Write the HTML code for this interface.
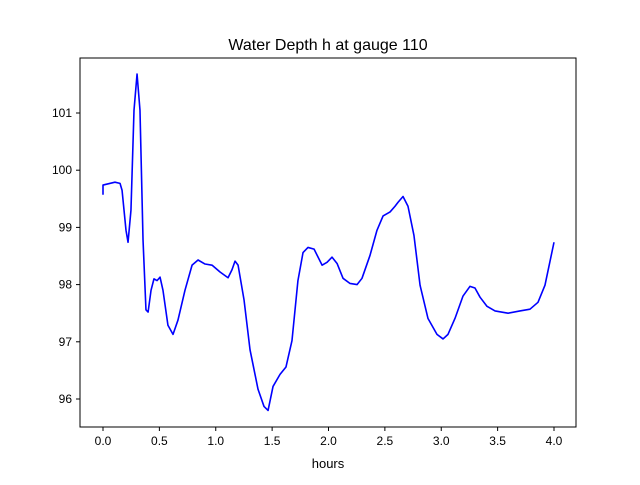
<!DOCTYPE html>
<html><head><meta charset="utf-8"><style>
body{margin:0;background:#fff;}
svg text{font-family:"Liberation Sans","DejaVu Sans",sans-serif;}
</style></head><body>
<svg id="chart" width="640" height="480" viewBox="0 0 640 480" xmlns="http://www.w3.org/2000/svg">
<rect width="640" height="480" fill="#fff"/>
<text x="328" y="50" font-size="16" text-anchor="middle">Water Depth h at gauge 110</text>
<g id="plot"></g>
<rect x="80" y="58" width="496" height="369" fill="none" stroke="#000" stroke-width="1"/>
<text x="328" y="468" font-size="13" text-anchor="middle">hours</text>
</svg>
<script>
const hours=[0,0,0.106,0.151,0.169,0.204,0.222,0.248,0.275,0.302,0.328,0.355,0.381,0.400,0.426,0.452,0.479,0.506,0.532,0.576,0.621,0.665,0.727,0.790,0.843,0.905,0.967,1.038,1.109,1.144,1.171,1.198,1.251,1.304,1.375,1.428,1.464,1.508,1.570,1.623,1.676,1.729,1.774,1.818,1.872,1.943,1.987,2.031,2.076,2.129,2.191,2.253,2.297,2.368,2.430,2.484,2.546,2.590,2.617,2.661,2.705,2.758,2.812,2.882,2.962,3.016,3.060,3.122,3.193,3.255,3.299,3.344,3.406,3.477,3.592,3.698,3.787,3.858,3.920,4.0];
const depth=[99.57,99.74,99.79,99.77,99.65,98.95,98.74,99.3,101.05,101.68,101.05,98.78,97.56,97.52,97.9,98.1,98.07,98.13,97.9,97.29,97.13,97.38,97.9,98.34,98.43,98.36,98.34,98.22,98.12,98.26,98.41,98.34,97.73,96.86,96.17,95.87,95.8,96.22,96.43,96.56,97.02,98.07,98.56,98.65,98.62,98.34,98.39,98.48,98.37,98.11,98.02,98.0,98.11,98.51,98.95,99.2,99.27,99.37,99.44,99.54,99.37,98.86,97.99,97.41,97.13,97.05,97.13,97.41,97.8,97.97,97.94,97.78,97.62,97.54,97.50,97.54,97.57,97.69,97.99,98.74];
const xTicks=["0.0","0.5","1.0","1.5","2.0","2.5","3.0","3.5","4.0"];
const yTicks=[96,97,98,99,100,101];
const NS="http://www.w3.org/2000/svg";
const X=t=>103+t*112.75;
const Y=v=>113+(101-v)*57.2;
const g=document.getElementById('plot');
function mk(tag,attrs){const e=document.createElementNS(NS,tag);for(const k in attrs)e.setAttribute(k,attrs[k]);g.appendChild(e);return e;}
xTicks.forEach(s=>{const x=X(parseFloat(s));
const l=mk('line',{x1:x,x2:x,y1:427,y2:431,stroke:'#000'});


const t=mk('text',{x:x,y:445,'font-size':'12','text-anchor':'middle'});t.textContent=s;

});
yTicks.forEach(v=>{const y=Y(v);
const l=mk('line',{x1:76,x2:80,y1:y,y2:y,stroke:'#000'});


const t=mk('text',{x:72,y:y+4,'font-size':'12','text-anchor':'end'});t.textContent=String(v);

});
const d=hours.map((t,i)=>(i?'L':'M')+X(t).toFixed(2)+','+Y(depth[i]).toFixed(2)).join(' ');
const p=mk('path',{d:d,fill:'none',stroke:'#0000ff','stroke-width':'1.6','stroke-linejoin':'round'});


</script>
</body></html>
